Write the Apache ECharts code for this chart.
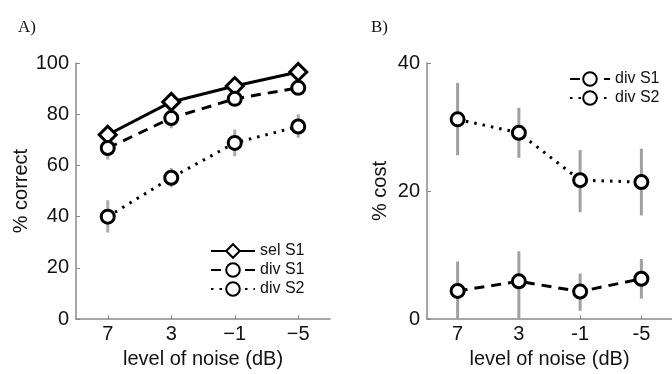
<!DOCTYPE html>
<html><head><meta charset="utf-8">
<script src="https://cdn.jsdelivr.net/npm/echarts@6/dist/echarts.min.js"></script>
<style>html,body{margin:0;padding:0;background:#fff}#c{width:672px;height:374px}</style>
</head><body><div id="c"></div>
<script>
const noiseLevels = ['7', '3', '\u22121', '\u22125'];
const noiseLevelsB = ['7', '3', '-1', '-5'];
// Panel A: % correct
const selS1 = [72, 84.8, 91, 96.5];
const divS1 = [66.8, 78.5, 86, 90.3];
const divS2 = [40, 55.2, 68.8, 75.2];
const selS1Err = [[70, 74], [83, 86.5], [89.5, 92.5], [95, 98]];
const divS1Err = [[62.3, 70], [74.5, 82], [83.5, 88.5], [87.5, 92.5]];
const divS2Err = [[33.8, 46.4], [51.5, 59], [63.6, 74], [70.8, 80]];
// Panel B: % cost
const costS1 = [4.4, 5.9, 4.3, 6.3];
const costS2 = [31.2, 29.1, 21.7, 21.4];
const costS1Err = [[0, 9], [0, 10.6], [1.3, 7.1], [3.2, 9.4]];
const costS2Err = [[25.6, 36.9], [25.2, 33], [16.7, 26.4], [16.2, 26.6]];

const FONT = 'Liberation Sans, Arial, sans-serif';
const axisGray = '#8a8a8a';

function errSeries(name, err, xi, yi, color) {
  return {
    type: 'custom', name: name, xAxisIndex: xi, yAxisIndex: yi, z: 1,
    silent: true,
    data: err.map((e, i) => [i, e[0], e[1]]),
    renderItem: function (params, api) {
      const lo = api.coord([api.value(0), api.value(1)]);
      const hi = api.coord([api.value(0), api.value(2)]);
      return { type: 'line', shape: { x1: lo[0], y1: lo[1], x2: hi[0], y2: hi[1] },
        style: { stroke: color, lineWidth: 3 } };
    }
  };
}
function lineSeries(name, data, xi, yi, type, symbol, size) {
  return {
    type: 'line', name: name, xAxisIndex: xi, yAxisIndex: yi, z: 5,
    data: data, symbol: symbol, symbolSize: size, showAllSymbol: true,
    lineStyle: { color: '#000', width: 3, type: type },
    itemStyle: { color: '#fff', borderColor: '#000', borderWidth: 3 },
    emphasis: { disabled: true }, animation: false
  };
}
function xAx(gi, cats) {
  return {
    type: 'category', gridIndex: gi, data: cats, boundaryGap: true,
    name: 'level of noise (dB)', nameLocation: 'middle', nameGap: 28,
    nameTextStyle: { fontFamily: FONT, fontSize: 20, color: '#111' },
    axisLine: { lineStyle: { color: axisGray, width: 1.5 } },
    axisTick: { show: true, inside: true, alignWithLabel: true, length: 4, lineStyle: { color: axisGray } },
    axisLabel: { fontFamily: FONT, fontSize: 20, color: '#111', margin: 5 },
    splitLine: { show: false }
  };
}
function yAx(gi, max, interval, name, gap) {
  return {
    type: 'value', gridIndex: gi, min: 0, max: max, interval: interval,
    name: name, nameLocation: 'middle', nameGap: gap, nameRotate: 90,
    nameTextStyle: { fontFamily: FONT, fontSize: 20, color: '#111' },
    axisLine: { show: true, lineStyle: { color: axisGray, width: 1.5 } },
    axisTick: { show: true, inside: true, length: 4, lineStyle: { color: axisGray } },
    axisLabel: { fontFamily: FONT, fontSize: 20, color: '#111', margin: 7 },
    splitLine: { show: false }
  };
}
const chart = echarts.init(document.getElementById('c'), null, { renderer: 'canvas' });
chart.setOption({
  animation: false,
  backgroundColor: '#fff',
  title: [
    { text: 'A)', left: 13, top: 14, textStyle: { fontFamily: 'Liberation Serif, serif', fontSize: 17, fontWeight: 'normal', color: '#111' } },
    { text: 'B)', left: 366, top: 14, textStyle: { fontFamily: 'Liberation Serif, serif', fontSize: 17, fontWeight: 'normal', color: '#111' } }
  ],
  grid: [
    { left: 76, width: 254, top: 63, bottom: 54 },
    { left: 427, width: 256, top: 63, bottom: 54 }
  ],
  xAxis: [xAx(0, noiseLevels), xAx(1, noiseLevelsB)],
  yAxis: [yAx(0, 100, 20, '% correct', 41), yAx(1, 40, 20, '% cost', 37)],
  legend: [
    { left: 205, top: 238, orient: 'vertical', itemWidth: 44, itemHeight: 17, itemGap: 3,
      data: ['sel S1', 'div S1', 'div S2'],
      textStyle: { fontFamily: FONT, fontSize: 16, color: '#111' }, selectedMode: false },
    { left: 564, top: 66, orient: 'vertical', itemWidth: 40, itemHeight: 17, itemGap: 3,
      data: ['div S1', 'div S2'],
      textStyle: { fontFamily: FONT, fontSize: 16, color: '#111' }, selectedMode: false }
  ],
  series: [
    errSeries('errA1', selS1Err, 0, 0, '#acacac'),
    errSeries('errA2', divS1Err, 0, 0, '#acacac'),
    errSeries('errA3', divS2Err, 0, 0, '#acacac'),
    errSeries('errB1', costS1Err, 1, 1, '#a0a0a0'),
    errSeries('errB2', costS2Err, 1, 1, '#a0a0a0'),
    lineSeries('sel S1', selS1, 0, 0, 'solid', 'diamond', 17),
    lineSeries('div S1', divS1, 0, 0, [10, 7], 'circle', 13),
    lineSeries('div S2', divS2, 0, 0, [2.5, 6], 'circle', 13),
    lineSeries('div S1', costS1, 1, 1, [10, 7], 'circle', 13),
    lineSeries('div S2', costS2, 1, 1, [2.5, 6], 'circle', 13)
  ]
});
</script></body></html>
